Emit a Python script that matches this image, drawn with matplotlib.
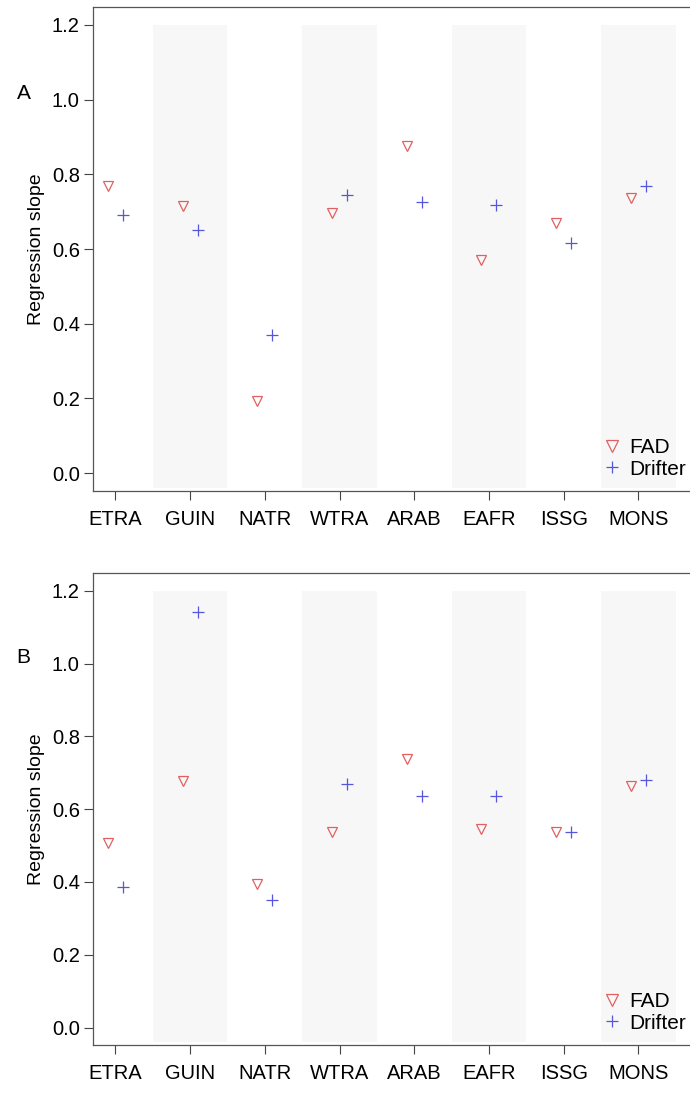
import numpy as np
import matplotlib
matplotlib.use('Agg')
import matplotlib.pyplot as plt

plt.rcParams['font.family'] = ['Liberation Sans', 'DejaVu Sans']

regions = ['ETRA', 'GUIN', 'NATR', 'WTRA', 'ARAB', 'EAFR', 'ISSG', 'MONS']

# panel A
fad_a = [0.769, 0.715, 0.193, 0.697, 0.877, 0.571, 0.670, 0.737]
drifter_a = [0.691, 0.651, 0.371, 0.744, 0.727, 0.719, 0.617, 0.770]

# panel B
fad_b = [0.508, 0.676, 0.394, 0.537, 0.738, 0.545, 0.537, 0.664]
drifter_b = [0.387, 1.143, 0.351, 0.669, 0.635, 0.637, 0.536, 0.680]

yticks = [0.0, 0.2, 0.4, 0.6, 0.8, 1.0, 1.2]

fig = plt.figure(figsize=(6.9, 10.97), dpi=100)
ax_a = fig.add_axes([0.1348, 0.5524, 0.877, 0.4412])
ax_b = fig.add_axes([0.1348, 0.0474, 0.877, 0.4300])

x = np.arange(1, len(regions) + 1)

for ax, fad, drf, letter in [(ax_a, fad_a, drifter_a, 'A'), (ax_b, fad_b, drifter_b, 'B')]:
    # shaded bands behind every second region
    for i in x[1::2]:
        ax.fill_between([i - 0.5, i + 0.5], -0.04, 1.2, color='#f7f7f7', lw=0, zorder=0)

    ax.plot(x - 0.1, fad, linestyle='none', marker='v', markersize=6.5,
            markerfacecolor='none', markeredgecolor='#e06060', markeredgewidth=0.9,
            label='FAD')
    ax.plot(x + 0.1, drf, linestyle='none', marker='+', markersize=9,
            color='#5555dd', markeredgewidth=0.9, label='Drifter')

    ax.set_xlim(0.7, 8.8)
    ax.set_ylim(-0.048, 1.248)
    ax.set_xticks(x)
    ax.set_xticklabels(regions)
    ax.set_yticks(yticks)
    ax.set_yticklabels([f'{v:.1f}' for v in yticks])
    ax.tick_params(direction='out', length=6.5, width=0.8, labelsize=14.5,
                   color='#444444', pad=3)
    ax.tick_params(axis='x', pad=7)
    for s in ax.spines.values():
        s.set_color('#555555')
        s.set_linewidth(0.9)
    ax.set_ylabel('Regression slope', fontsize=14, labelpad=5)

    ax.text(-0.115, 0.822, letter, transform=ax.transAxes,
            fontsize=15, ha='center', va='center')

    leg = ax.legend(loc='lower right', frameon=False, fontsize=15, handletextpad=0.3,
                    borderaxespad=0.2, labelspacing=0.1, handlelength=1.0,
                    bbox_to_anchor=(1.0, 0.0))
    leg.legend_handles[0].set_markersize(9)

fig.savefig('out.png', dpi=100)
